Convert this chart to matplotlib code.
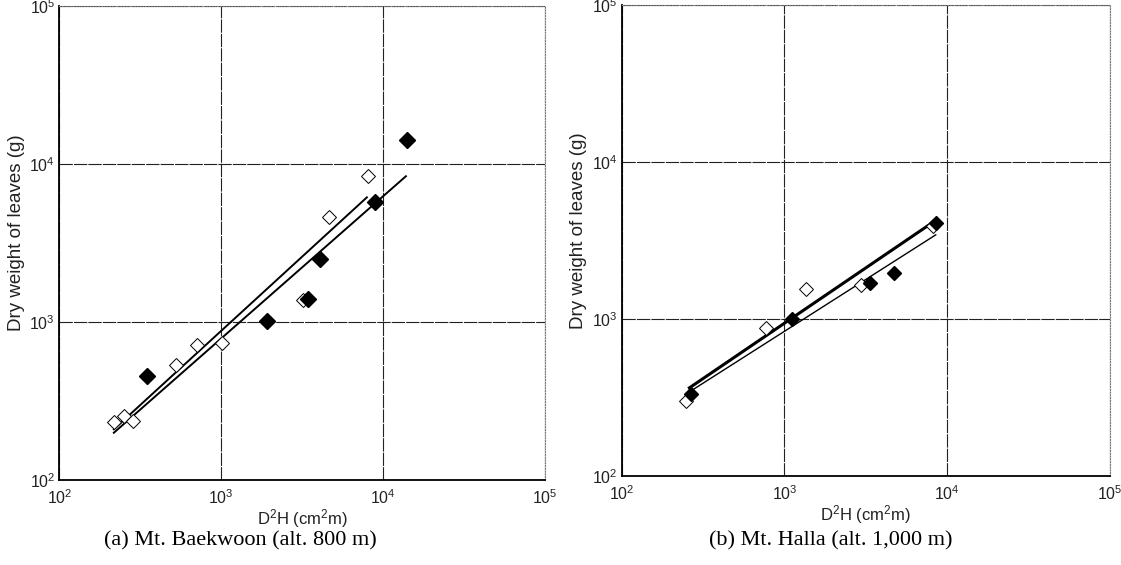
import matplotlib.pyplot as plt
import numpy as np
from matplotlib.ticker import FixedLocator, NullLocator, FuncFormatter

plt.rcParams["mathtext.fontset"] = "custom"
plt.rcParams["mathtext.rm"] = "Liberation Sans"
plt.rcParams["mathtext.it"] = "Liberation Sans"
plt.rcParams["font.family"] = ["Liberation Sans", "DejaVu Sans"]

# (a) Mt. Baekwoon: D2H (cm2 m) vs dry weight of leaves (g)
baek_open_x = [218, 251, 286, 527, 711, 1013, 3222, 4664, 8110]
baek_open_y = [232, 253, 237, 531, 711, 740, 1388, 4605, 8340]
baek_fill_x = [349, 1918, 3459, 4086, 8915, 13970]
baek_fill_y = [457, 1015, 1400, 2490, 5786, 14130]
# regression lines y = a * x^b, drawn over x range
baek_open_fit = (1.34, 0.939, 215, 8017)
baek_fill_fit = (1.57, 0.900, 215, 13970)

# (b) Mt. Halla (alt. 1,000 m)
halla_open_x = [250, 767, 1359, 2966, 8170]
halla_open_y = [300, 877, 1550, 1651, 3908]
halla_fill_x = [268, 1120, 3371, 4698, 8477]
halla_fill_y = [331, 1004, 1692, 1958, 4065]
halla_fill_fit = (10 ** (2.556 - 0.705 * 2.408), 0.705, 256, 8090)
halla_open_fit = (10 ** (2.551 - 0.661 * 2.439), 0.661, 275, 8570)

decades = [1e2, 1e3, 1e4, 1e5]
captions = ["(a) Mt. Baekwoon (alt. 800 m)", "(b) Mt. Halla (alt. 1,000 m)"]


def pow_fmt(v, pos):
    return r"$\mathrm{10^{%d}}$" % int(round(np.log10(v)))


def fit_line(ax, fit, lw):
    a, b, x0, x1 = fit
    xs = np.array([x0, x1], dtype=float)
    ax.plot(xs, a * xs ** b, color="black", lw=lw, solid_capstyle="butt", zorder=3)


def setup(ax):
    ax.set_xscale("log")
    ax.set_yscale("log")
    ax.set_xlim(1e2, 1e5)
    ax.set_ylim(1e2, 1e5)
    for axis in (ax.xaxis, ax.yaxis):
        axis.set_major_locator(FixedLocator(decades))
        axis.set_minor_locator(NullLocator())
        axis.set_major_formatter(FuncFormatter(pow_fmt))
    ax.tick_params(length=0, labelsize=11.5, labelcolor="#222222")
    ax.tick_params(axis="x", pad=6)
    ax.tick_params(axis="y", pad=3)
    ax.grid(True, color="#222222", lw=0.8, ls=(0, (12, 1)))
    ax.set_axisbelow(True)
    ax.spines["left"].set_linewidth(1.3)
    ax.spines["bottom"].set_linewidth(1.3)
    for s in ("top", "right"):
        ax.spines[s].set_linestyle((0, (1, 1.5)))
        ax.spines[s].set_color("#777777")
        ax.spines[s].set_linewidth(0.8)
    ax.set_ylabel("Dry weight of leaves (g)", fontsize=13.5, color="#222222")
    ax.yaxis.set_label_coords(-0.071, 0.521)
    ax.set_xlabel(r"D$^2$H (cm$^2$m)", fontsize=12, color="#222222")
    ax.xaxis.set_label_coords(0.5, -0.058)


fig = plt.figure(figsize=(11.21, 5.65), dpi=100)
ax1 = fig.add_axes([0.0529, 0.1504, 0.4333, 0.839])
ax2 = fig.add_axes([0.5546, 0.1575, 0.4356, 0.8336])

setup(ax1)
fit_line(ax1, baek_open_fit, 1.4)
fit_line(ax1, baek_fill_fit, 1.4)
ax1.plot(baek_open_x, baek_open_y, "D", ms=7, mfc="white", mec="black", mew=0.7, ls="none", zorder=4)
ax1.plot(baek_fill_x, baek_fill_y, "D", ms=8, mfc="black", mec="black", ls="none", zorder=5)

setup(ax2)
fit_line(ax2, halla_fill_fit, 2.2)
fit_line(ax2, halla_open_fit, 1.0)
ax2.plot(halla_open_x, halla_open_y, "D", ms=7, mfc="white", mec="black", mew=0.7, ls="none", zorder=4)
ax2.plot(halla_fill_x, halla_fill_y, "D", ms=7.5, mfc="black", mec="black", ls="none", zorder=5)

fig.text(0.214, 0.042, captions[0], ha="center", va="center", fontsize=16,
         family=["Liberation Serif", "DejaVu Serif"])
fig.text(0.741, 0.042, captions[1], ha="center", va="center", fontsize=16,
         family=["Liberation Serif", "DejaVu Serif"])

fig.savefig("out.png", dpi=100)
